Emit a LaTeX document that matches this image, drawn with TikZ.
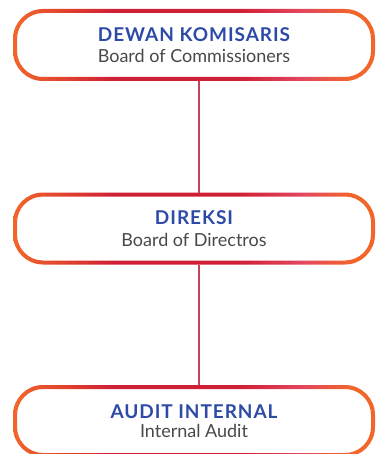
\documentclass[tikz,border=0pt]{standalone}
\usepackage{fontspec}
\setmainfont{Lato}
\usepackage{tikz}
\usetikzlibrary{positioning}

\definecolor{edgeorange}{HTML}{F2662A}
\definecolor{edgered}{HTML}{CF1F35}
\definecolor{edgepink}{HTML}{E2475F}
\definecolor{titleblue}{HTML}{2C4AA6}
\definecolor{subgray}{HTML}{484848}
\definecolor{linkred}{HTML}{C9405E}

\pgfdeclarehorizontalshading{ring}{100bp}{color(0bp)=(edgeorange); color(25bp)=(edgeorange);
  color(32bp)=(edgeorange!50!edgered); color(39bp)=(edgered); color(56bp)=(edgered);
  color(65bp)=(edgepink); color(72bp)=(edgeorange); color(100bp)=(edgeorange)}

% title line over subtitle line, lowered a little inside the frame
\newcommand{\boardtitle}[4][-2pt]{\raisebox{#1}{\parbox{330pt}{\centering
  \fontsize{18}{21}\selectfont
  {\fontsize{19}{21}\selectfont\addfontfeature{LetterSpace=5}\bfseries\color{titleblue}#3}\\[#2]
  {\color{subgray}#4}}}}

\begin{document}
\begin{tikzpicture}[x=1pt,y=1pt]
  \tikzstyle{board}=[minimum width=362pt, minimum height=72pt, outer sep=0pt, inner sep=0pt, align=center]
  \tikzstyle{link}=[draw=linkred, line width=2pt]

  \useasboundingbox (0,0) rectangle (378,-454);

  \node[board] (dk) at (194,-45) {\boardtitle{-0.5pt}{DEWAN KOMISARIS}{Board of Commissioners}};
  \node[board] (dir) at (194,-228.5) {\boardtitle[-0.5pt]{1.5pt}{DIREKSI}{Board of Directros}};
  \node[board] (ai) at (194,-421) {\boardtitle[-7.5pt]{-2pt}{AUDIT INTERNAL}{Internal Audit}};

  % rounded frames with colour running along the edge
  \foreach \b in {dk,dir,ai}
    \shade[shading=ring, even odd rule, rounded corners=30pt]
      (\b.north west) rectangle (\b.south east)
      [rounded corners=26pt] ([shift={(4pt,-4pt)}]\b.north west) rectangle ([shift={(-4pt,4pt)}]\b.south east);

  \path[link]
    ([xshift=5pt]dk.south) -- ([xshift=5pt]dir.north)
    ([xshift=5pt]dir.south) -- ([xshift=5pt]ai.north);
\end{tikzpicture}
\end{document}
